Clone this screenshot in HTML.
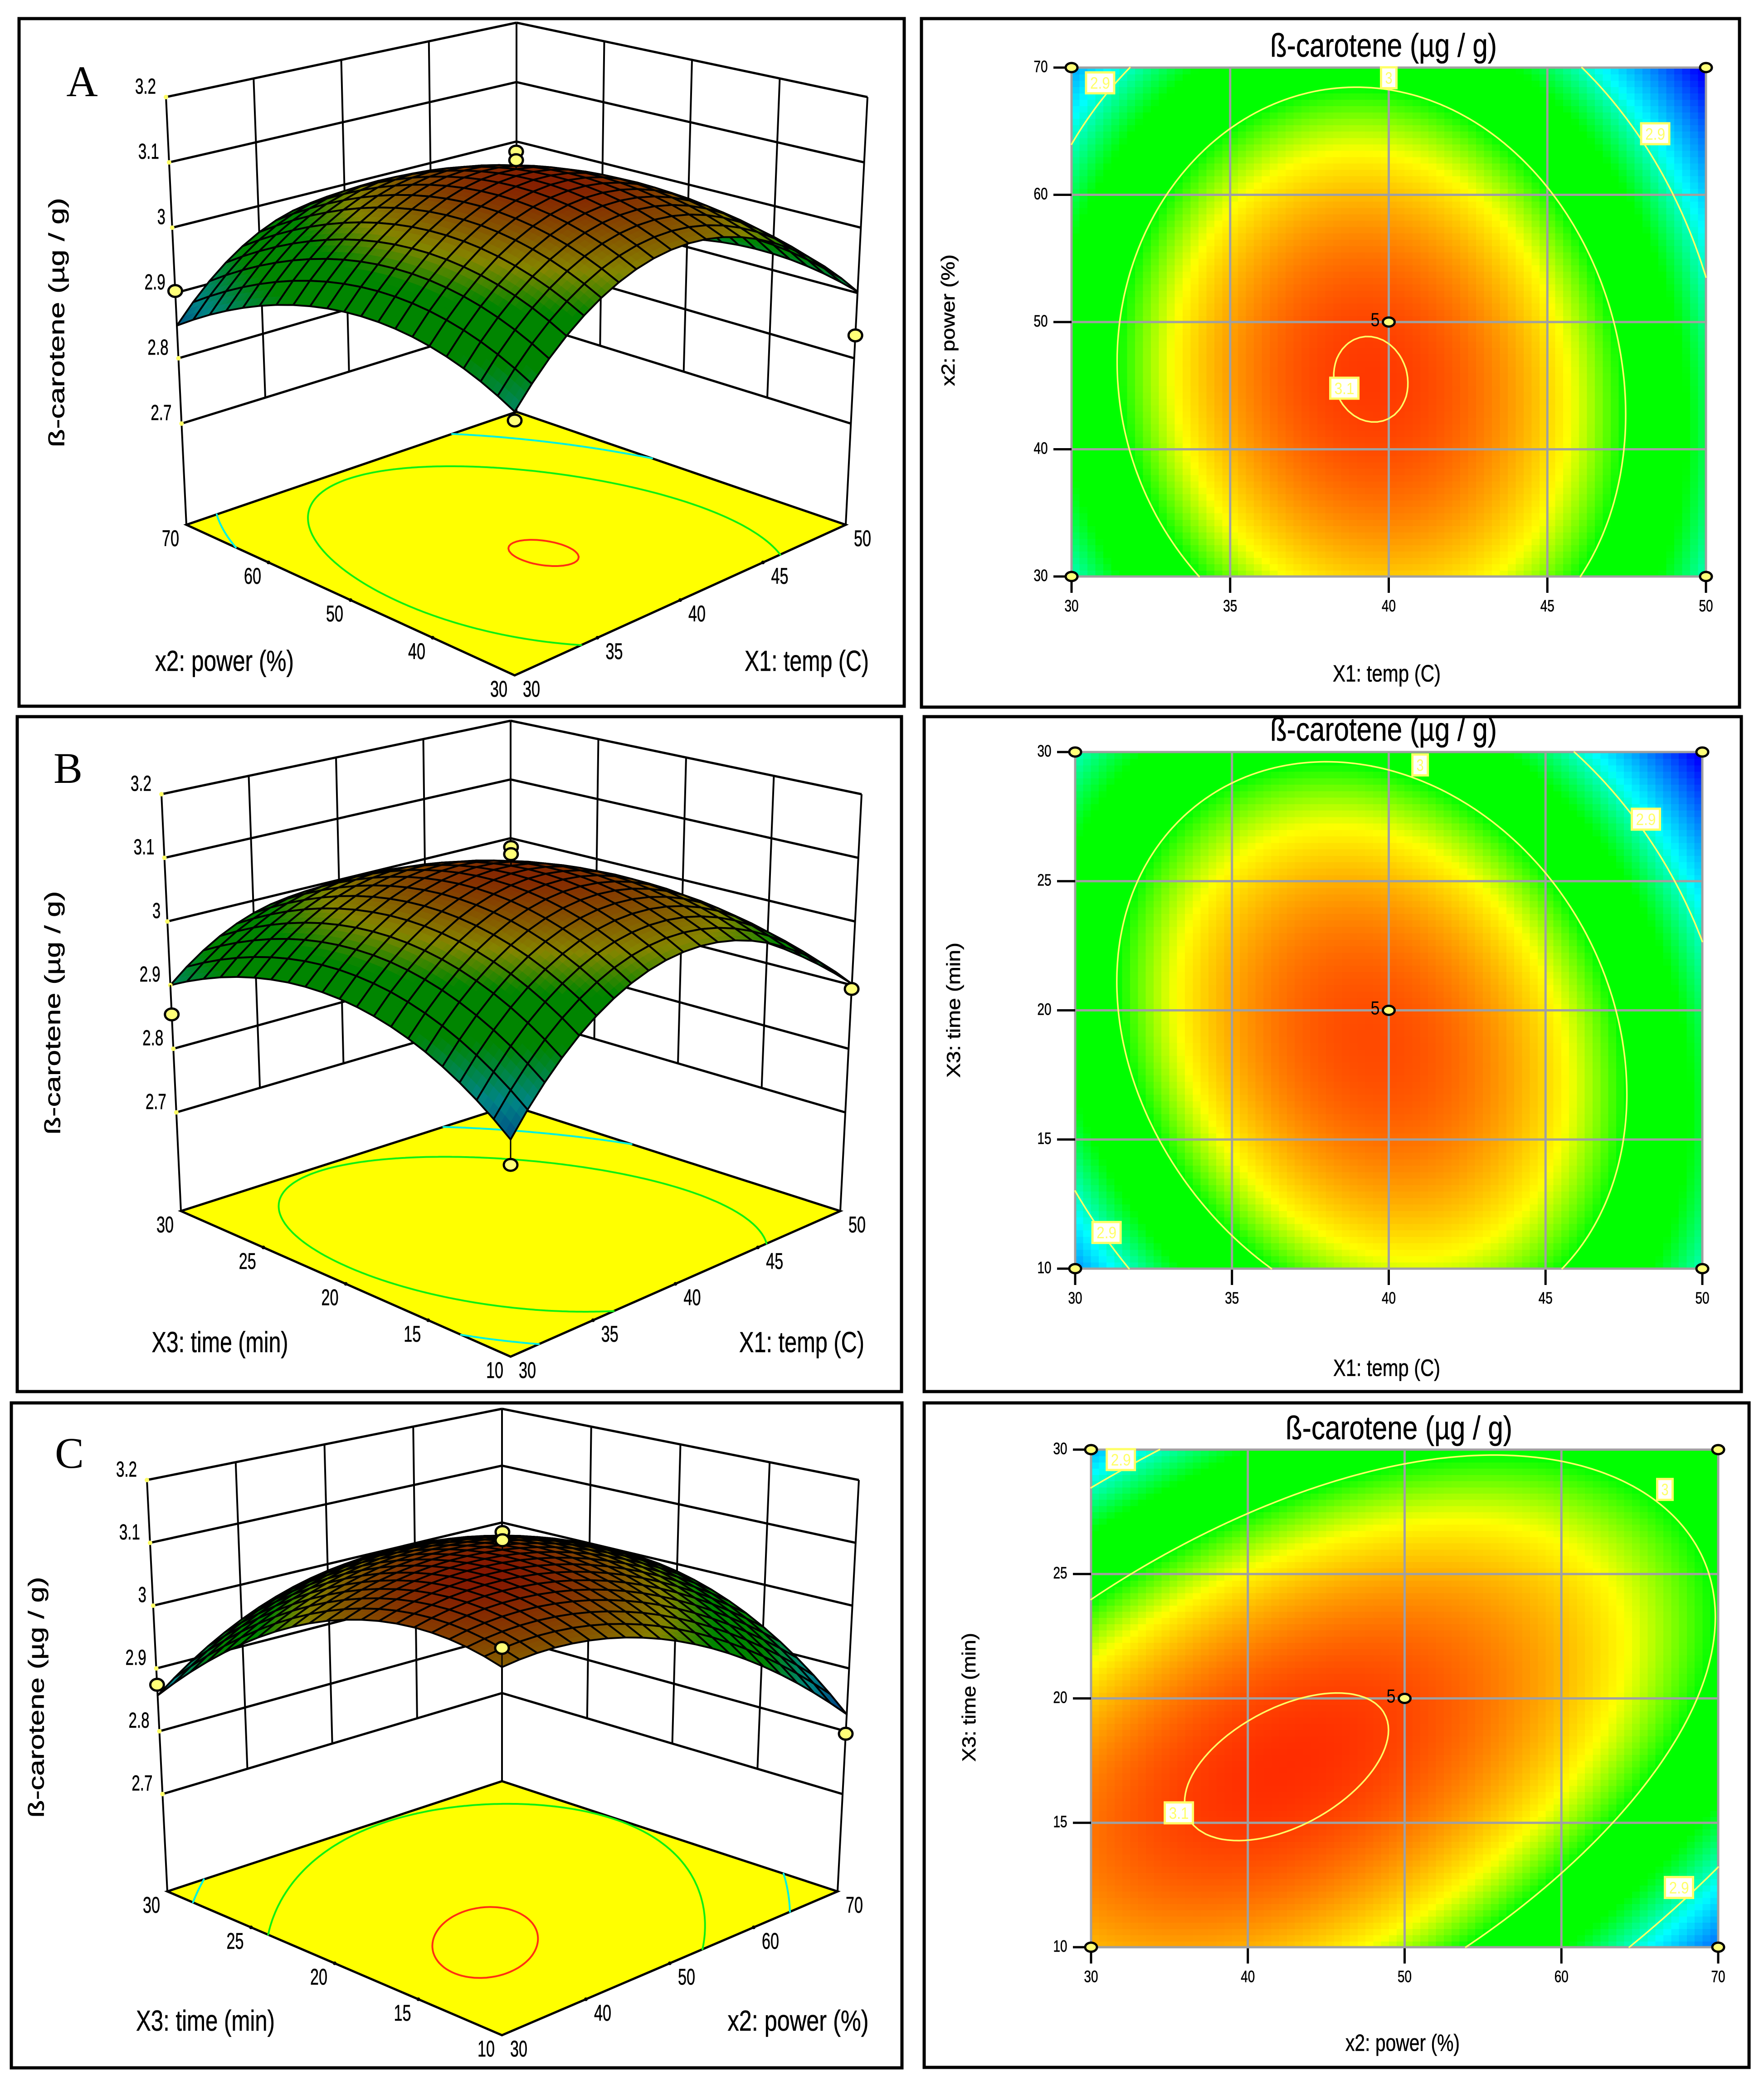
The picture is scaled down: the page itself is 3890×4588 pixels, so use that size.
<!DOCTYPE html>
<html lang="en">
<head>
<meta charset="utf-8">
<title>Response surface and contour plots of ß-carotene</title>
<style>
html,body{margin:0;padding:0;background:#fff;}
svg{display:block;font-family:"Liberation Sans",sans-serif;}
text{fill:#000;stroke:#000;stroke-width:.6px;}
</style>
</head>
<body>
<svg id="figure" xmlns="http://www.w3.org/2000/svg" width="3890" height="4588" viewBox="0 0 3890 4588">
  <rect width="3890" height="4588" fill="#fff"/>
  <rect x="42" y="41" width="1952" height="1516" fill="none" stroke="#000" stroke-width="7"/>
  <rect x="2032" y="41" width="1804" height="1518" fill="none" stroke="#000" stroke-width="7"/>
  <rect x="38" y="1580" width="1950" height="1488" fill="none" stroke="#000" stroke-width="7"/>
  <rect x="2038" y="1580" width="1802" height="1488" fill="none" stroke="#000" stroke-width="7"/>
  <rect x="25" y="3093" width="1964" height="1466" fill="none" stroke="#000" stroke-width="7"/>
  <rect x="2038" y="3093" width="1819" height="1465" fill="none" stroke="#000" stroke-width="7"/>
  <text x="181" y="212" font-family="Liberation Serif" font-size="96" text-anchor="middle" style="stroke:none">A</text>
  <text x="150" y="1726" font-family="Liberation Serif" font-size="96" text-anchor="middle" style="stroke:none">B</text>
  <text x="153" y="3236" font-family="Liberation Serif" font-size="96" text-anchor="middle" style="stroke:none">C</text>
</svg>
<script>
// ---- chart data ----
const zTicks = [2.7, 2.8, 2.9, 3, 3.1, 3.2];
const contourLevels = [2.9, 3, 3.1];

const tempTicks = [30, 35, 40, 45, 50];
const powerTicks = [30, 40, 50, 60, 70];
const timeTicks = [10, 15, 20, 25, 30];

// response at low / centre / high of the first factor (outer) and second factor (inner)
const responseA = [[2.900, 2.958, 2.850], [3.056, 3.0975, 2.984], [2.902, 2.913, 2.780]];
const responseB = [[2.845, 2.964, 2.900], [3.033, 3.095, 2.987], [2.902, 2.922, 2.780]];
const responseC = [[3.062, 3.056, 2.857], [3.026, 3.097, 2.989], [2.827, 2.988, 2.955]];

// design points: first-factor value, second-factor value, measured response
const designFirstA = [30, 50, 30, 40, 40];
const designSecondA = [70, 30, 30, 50, 50];
const designValueA = [2.903, 2.835, 2.888, 3.124, 3.111];
const designFirstB = [30, 50, 30, 40, 40];
const designSecondB = [30, 10, 10, 20, 20];
const designValueB = [2.854, 2.894, 2.810, 3.124, 3.113];
const designFirstC = [30, 70, 30, 50, 50];
const designSecondC = [30, 10, 10, 20, 20];
const designValueC = [2.874, 2.796, 3.089, 3.125, 3.112];

// contour annotation labels, in axis units
const labelTextA = ["2.9", "3", "2.9", "3.1"];
const labelFirstA = [30.9, 40, 48.4, 38.6];
const labelSecondA = [68.8, 69.2, 64.8, 44.8];
const labelTextB = ["3", "2.9", "2.9"];
const labelFirstB = [41, 48.2, 31];
const labelSecondB = [29.5, 27.4, 11.4];
const labelTextC = ["2.9", "3", "3.1", "2.9"];
const labelFirstC = [31.9, 66.6, 35.6, 67.5];
const labelSecondC = [29.6, 28.4, 15.4, 12.4];

// ---- helpers ----
const NS = "http://www.w3.org/2000/svg";
const root = document.getElementById("figure");
const TITLE = "\u00DF-carotene (\u00B5g / g)";
const FLOOR_Z = 2.545, TOP_Z = 3.2;

function el(parent, tag, attrs) {
  const e = document.createElementNS(NS, tag);
  for (const k in attrs) e.setAttribute(k, attrs[k]);
  parent.appendChild(e);
  return e;
}
function label(parent, str, x, y, size, len, rot) {
  const e = el(parent, "text", {
    x: x, y: y + size * 0.36, "font-size": size, "text-anchor": "middle",
    textLength: len, lengthAdjust: "spacingAndGlyphs"
  });
  if (rot) e.setAttribute("transform", "rotate(-90 " + x + " " + y + ")");
  e.textContent = str;
  return e;
}
function basis(u) { return [u * (u - 1) / 2, 1 - u * u, u * (u + 1) / 2]; }
function response(grid, a, b) { // a,b in 0..1
  const wa = basis(2 * a - 1), wb = basis(2 * b - 1);
  let s = 0;
  for (let i = 0; i < 3; i++) for (let j = 0; j < 3; j++) s += wa[i] * wb[j] * grid[i][j];
  return s;
}
const stopZ = [2.79, 2.885, 2.945, 3.0, 3.04, 3.12];
const stopRGB = [[0, 0, 255], [0, 255, 255], [0, 255, 0], [0, 255, 0], [255, 255, 0], [255, 0, 0]];
function colour(z, k) {
  let rgb = stopRGB[stopRGB.length - 1];
  if (z <= stopZ[0]) rgb = stopRGB[0];
  else for (let i = 1; i < stopZ.length; i++) {
    if (z <= stopZ[i]) {
      const f = (z - stopZ[i - 1]) / (stopZ[i] - stopZ[i - 1]);
      rgb = stopRGB[i - 1].map((c, n) => c + (stopRGB[i][n] - c) * f);
      break;
    }
  }
  return "rgb(" + rgb.map(c => Math.round(c * k)).join(",") + ")";
}
function contourSegments(grid, level, emit) {
  const N = 110;
  const val = (i, j) => response(grid, i / N, j / N);
  for (let i = 0; i < N; i++) for (let j = 0; j < N; j++) {
    const c = [[i, j], [i + 1, j], [i + 1, j + 1], [i, j + 1]];
    const v = c.map(p => val(p[0], p[1]));
    const pts = [];
    for (let k = 0; k < 4; k++) {
      const m = (k + 1) % 4;
      if ((v[k] < level) !== (v[m] < level)) {
        const f = (level - v[k]) / (v[m] - v[k]);
        pts.push([(c[k][0] + (c[m][0] - c[k][0]) * f) / N, (c[k][1] + (c[m][1] - c[k][1]) * f) / N]);
      }
    }
    if (pts.length >= 2) emit(pts[0], pts[1]);
    if (pts.length === 4) emit(pts[2], pts[3]);
  }
}

// ---- 3D response surface ----
function drawSurface(cfg) {
  const g = el(root, "g", {});
  
  
  const lerp2 = (q, a, b) => [
    (1 - a) * (1 - b) * q.F[0] + a * (1 - b) * q.R[0] + (1 - a) * b * q.L[0] + a * b * q.B[0],
    (1 - a) * (1 - b) * q.F[1] + a * (1 - b) * q.R[1] + (1 - a) * b * q.L[1] + a * b * q.B[1]
  ];
  const project = (a, b, z) => {
    const t = (z - FLOOR_Z) / (TOP_Z - FLOOR_Z);
    const p = lerp2(cfg.floor, a, b), q = lerp2(cfg.top, a, b);
    return [p[0] + (q[0] - p[0]) * t, p[1] + (q[1] - p[1]) * t];
  };
  const ptStr = p => p[0].toFixed(1) + "," + p[1].toFixed(1);
  const line = (p, q, w, name) => {
    const l = el(g, "line", { x1: p[0], y1: p[1], x2: q[0], y2: q[1], stroke: "#000", "stroke-width": w });
    
    
    return l;
  };
  const aMin = cfg.aTicks[0], aMax = cfg.aTicks[cfg.aTicks.length - 1];
  const bMin = cfg.bTicks[0], bMax = cfg.bTicks[cfg.bTicks.length - 1];
  const na = v => (v - aMin) / (aMax - aMin), nb = v => (v - bMin) / (bMax - bMin);

  // floor
  const f = cfg.floor;
  const floorPoly = el(g, "polygon", {
    points: [f.F, f.R, f.B, f.L].map(ptStr).join(" "), fill: "#ffff00", stroke: "#000", "stroke-width": 5
  });
  
  
  const floorColours = ["#00f0e0", "#10f010", "#ff3010"];
  contourLevels.forEach((lev, idx) => {
    let d = "";
    contourSegments(cfg.grid, lev, (p, q) => {
      const P = lerp2(f, p[0], p[1]), Q = lerp2(f, q[0], q[1]);
      d += "M" + ptStr(P) + "L" + ptStr(Q);
    });
    const path = el(g, "path", { d: d, fill: "none", stroke: floorColours[idx], "stroke-width": 4, "stroke-linecap": "round" });
    
    
  });

  // walls
  zTicks.forEach(z => {
    line(project(0, 1, z), project(1, 1, z), 5, "wall-gridline");
    line(project(1, 1, z), project(1, 0, z), 5, "wall-gridline");
  });
  cfg.aTicks.slice(1, -1).forEach(v => {
    line(project(na(v), 1, zTicks[0]), project(na(v), 1, TOP_Z), 4, "wall-gridline");
  });
  cfg.bTicks.slice(1, -1).forEach(v => {
    line(project(1, nb(v), zTicks[0]), project(1, nb(v), TOP_Z), 4, "wall-gridline");
  });
  line(project(0, 1, FLOOR_Z), project(0, 1, TOP_Z), 4, "corner-edge");
  line(project(1, 1, FLOOR_Z), project(1, 1, TOP_Z), 4, "corner-edge");
  line(project(1, 0, FLOOR_Z), project(1, 0, TOP_Z), 4, "corner-edge");

  // floor ticks
  cfg.aTicks.slice(1, -1).forEach(v => {
    const p = project(na(v), 0, FLOOR_Z);
    const c = el(g, "circle", { cx: p[0], cy: p[1], r: 4, fill: "#000" });
    
    
  });
  cfg.bTicks.slice(1, -1).forEach(v => {
    const p = project(0, nb(v), FLOOR_Z);
    const c = el(g, "circle", { cx: p[0], cy: p[1], r: 4, fill: "#000" });
    
    
  });

  // mesh, painted back to front
  const n = 20, sub = 3;
  const mesh = el(g, "g", {});
  
  
  const surf = (a, b) => project(a, b, response(cfg.grid, a, b));
  for (let i = n - 1; i >= 0; i--) for (let j = n - 1; j >= 0; j--) {
    for (let si = sub - 1; si >= 0; si--) for (let sj = sub - 1; sj >= 0; sj--) {
      const a0 = (i + si / sub) / n, a1 = (i + (si + 1) / sub) / n;
      const b0 = (j + sj / sub) / n, b1 = (j + (sj + 1) / sub) / n;
      const fillCol = colour(response(cfg.grid, (a0 + a1) / 2, (b0 + b1) / 2), 0.52);
      const patch = el(mesh, "polygon", {
        points: [surf(a0, b0), surf(a1, b0), surf(a1, b1), surf(a0, b1)].map(ptStr).join(" "),
        fill: fillCol, stroke: fillCol, "stroke-width": 1
      });
      
      
    }
    const a0 = i / n, a1 = (i + 1) / n, b0 = j / n, b1 = (j + 1) / n;
    const outline = el(mesh, "polygon", {
      points: [surf(a0, b0), surf(a1, b0), surf(a1, b1), surf(a0, b1)].map(ptStr).join(" "),
      fill: "none", stroke: "#000", "stroke-width": 4, "stroke-linejoin": "round"
    });
    
    
  }

  // z ticks
  zTicks.forEach(z => {
    const p = project(0, 1, z);
    const d = el(g, "circle", { cx: p[0], cy: p[1], r: 5, fill: "#ffff66" });
    
    
    const s = String(z);
    const t = label(g, s, p[0] - (s.length > 1 ? 45 : 24), p[1] - 25, 48, s.length > 1 ? 46 : 18);
    
    
  });
  cfg.aTicks.forEach(v => {
    const p = project(na(v), 0, FLOOR_Z);
    const t = label(g, String(v), p[0] + 37, p[1] + 29, 50, 38);
    
    
  });
  cfg.bTicks.forEach(v => {
    const p = project(0, nb(v), FLOOR_Z);
    const t = label(g, String(v), p[0] - 35, p[1] + 29, 50, 38);
    
    
  });

  // design points
  cfg.designFirst.forEach((v, i) => {
    const a = na(v), b = nb(cfg.designSecond[i]);
    const p = project(a, b, cfg.designValue[i]);
    const s = surf(a, b);
    line(p, s, 3, "design-point-stem");
    const m = el(g, "ellipse", { cx: p[0], cy: p[1], rx: 15, ry: 13, fill: "#ffff78", stroke: "#000", "stroke-width": 5 });
    
    
  });

  const zt = label(g, TITLE, cfg.zTitle[0], cfg.zTitle[1], 48, cfg.zTitle[2], true);
  
  
  const bt = label(g, cfg.bName, cfg.bTitle[0], cfg.bTitle[1], 64, cfg.bTitle[2]);
  
  
  const at = label(g, cfg.aName, cfg.aTitle[0], cfg.aTitle[1], 64, cfg.aTitle[2]);
  
  
}

// ---- 2D contour map ----
function drawContour(cfg) {
  const g = el(root, "g", {});
  
  
  const P = cfg.plot, W = P.x1 - P.x0, H = P.y1 - P.y0;
  const aMin = cfg.aTicks[0], aMax = cfg.aTicks[cfg.aTicks.length - 1];
  const bMin = cfg.bTicks[0], bMax = cfg.bTicks[cfg.bTicks.length - 1];
  const sx = v => P.x0 + (v - aMin) / (aMax - aMin) * W;
  const sy = v => P.y1 - (v - bMin) / (bMax - bMin) * H;

  const N = 80;
  const cells = el(g, "g", { "shape-rendering": "crispEdges" });
  
  
  for (let i = 0; i < N; i++) for (let j = 0; j < N; j++) {
    const z = response(cfg.grid, (i + .5) / N, (j + .5) / N);
    const cell = el(cells, "rect", {
      x: (P.x0 + i / N * W).toFixed(1), y: (P.y1 - (j + 1) / N * H).toFixed(1),
      width: (W / N + 1).toFixed(1), height: (H / N + 1).toFixed(1), fill: colour(z, 1)
    });
    
    
  }

  // gridlines and ticks
  cfg.aTicks.forEach(v => {
    const x = sx(v);
    const gl = el(g, "line", { x1: x, y1: P.y0, x2: x, y2: P.y1, stroke: "#a0a0a0", "stroke-width": 5 });
    
    
    const tk = el(g, "line", { x1: x, y1: P.y1, x2: x, y2: P.y1 + 36, stroke: "#000", "stroke-width": 5 });
    
    
    const t = label(g, String(v), x, P.y1 + 64, 36, 31);
    
    
  });
  cfg.bTicks.forEach(v => {
    const y = sy(v);
    const gl = el(g, "line", { x1: P.x0, y1: y, x2: P.x1, y2: y, stroke: "#a0a0a0", "stroke-width": 5 });
    
    
    const tk = el(g, "line", { x1: P.x0 - 40, y1: y, x2: P.x0, y2: y, stroke: "#000", "stroke-width": 5 });
    
    
    const t = label(g, String(v), P.x0 - 68, y - 3, 36, 31);
    
    
  });

  // contours
  contourLevels.forEach(lev => {
    let d = "";
    contourSegments(cfg.grid, lev, (p, q) => {
      d += "M" + (P.x0 + p[0] * W).toFixed(1) + "," + (P.y1 - p[1] * H).toFixed(1) +
           "L" + (P.x0 + q[0] * W).toFixed(1) + "," + (P.y1 - q[1] * H).toFixed(1);
    });
    const path = el(g, "path", { d: d, fill: "none", stroke: "#ffff66", "stroke-width": 3.5, "stroke-linecap": "round" });
    
    
  });

  // contour labels
  cfg.labelText.forEach((s, i) => {
    const x = sx(cfg.labelFirst[i]), y = sy(cfg.labelSecond[i]);
    const w = s.length > 1 ? 62 : 34;
    const box = el(g, "rect", { x: x - w / 2, y: y - 23, width: w, height: 46, fill: "#fff", stroke: "#ffff66", "stroke-width": 5 });
    
    
    const t = label(g, s, x, y, 36, s.length > 1 ? 44 : 16);
    t.style.fill = "#ffff66";
    t.style.stroke = "none";
    
    
  });

  // design point markers
  const corner = [[aMin, bMin], [aMin, bMax], [aMax, bMin], [aMax, bMax], [(aMin + aMax) / 2, (bMin + bMax) / 2]];
  corner.forEach(c => {
    const m = el(g, "ellipse", { cx: sx(c[0]), cy: sy(c[1]), rx: 13, ry: 10, fill: "#ffff78", stroke: "#000", "stroke-width": 5 });
    
    
  });
  const rep = label(g, "5", sx((aMin + aMax) / 2) - 30, sy((bMin + bMax) / 2) - 6, 42, 20);
  rep.style.stroke = "none";
  
  

  const tt = label(g, TITLE, cfg.title[0], cfg.title[1], 72, 500);
  
  
  const xt = label(g, cfg.aName, cfg.xTitle[0], cfg.xTitle[1], 52, cfg.xTitle[2]);
  
  
  const yt = label(g, cfg.bName, cfg.yTitle[0], cfg.yTitle[1], 42, cfg.yTitle[2], true);
  
  
}

// ---- panels ----
drawSurface({
  name: "panel-a-surface-plot", grid: responseA, aTicks: tempTicks, bTicks: powerTicks,
  aName: "X1: temp (C)", bName: "x2: power (%)",
  floor: { F: [1135, 1489], R: [1865, 1157], L: [411, 1157], B: [1139, 908] },
  top: { F: [1135, 416], R: [1913, 214], L: [366, 214], B: [1139, 50] },
  designFirst: designFirstA, designSecond: designSecondA, designValue: designValueA,
  zTitle: [124, 711, 550], bTitle: [495, 1456, 306], aTitle: [1779, 1456, 274]
});
drawSurface({
  name: "panel-b-surface-plot", grid: responseB, aTicks: tempTicks, bTicks: timeTicks,
  aName: "X1: temp (C)", bName: "X3: time (min)",
  floor: { F: [1126, 2991], R: [1853, 2670], L: [399, 2670], B: [1126, 2437] },
  top: { F: [1126, 1946], R: [1900, 1751], L: [356, 1751], B: [1126, 1589] },
  designFirst: designFirstB, designSecond: designSecondB, designValue: designValueB,
  zTitle: [115, 2233, 537], bTitle: [485, 2958, 301], aTitle: [1768, 2958, 276]
});
drawSurface({
  name: "panel-c-surface-plot", grid: responseC, aTicks: powerTicks, bTicks: timeTicks,
  aName: "x2: power (%)", bName: "X3: time (min)",
  floor: { F: [1107, 4487], R: [1847, 4170], L: [369, 4170], B: [1107, 3927] },
  top: { F: [1107, 3459], R: [1894, 3263], L: [324, 3263], B: [1107, 3106] },
  designFirst: designFirstC, designSecond: designSecondC, designValue: designValueC,
  zTitle: [79, 3742, 531], bTitle: [453, 4454, 306], aTitle: [1760, 4454, 311]
});
drawContour({
  name: "panel-a-contour-plot", grid: responseA, aTicks: tempTicks, bTicks: powerTicks,
  aName: "X1: temp (C)", bName: "x2: power (%)",
  plot: { x0: 2363, x1: 3762, y0: 149, y1: 1271 },
  labelText: labelTextA, labelFirst: labelFirstA, labelSecond: labelSecondA,
  title: [3051, 99], xTitle: [3058, 1484, 238], yTitle: [2090, 706, 290]
});
drawContour({
  name: "panel-b-contour-plot", grid: responseB, aTicks: tempTicks, bTicks: timeTicks,
  aName: "X1: temp (C)", bName: "X3: time (min)",
  plot: { x0: 2371, x1: 3754, y0: 1658, y1: 2797 },
  labelText: labelTextB, labelFirst: labelFirstB, labelSecond: labelSecondB,
  title: [3051, 1607], xTitle: [3058, 3015, 236], yTitle: [2102, 2227, 298]
});
drawContour({
  name: "panel-c-contour-plot", grid: responseC, aTicks: powerTicks, bTicks: timeTicks,
  aName: "x2: power (%)", bName: "X3: time (min)",
  plot: { x0: 2406, x1: 3789, y0: 3196, y1: 4293 },
  labelText: labelTextC, labelFirst: labelFirstC, labelSecond: labelSecondC,
  title: [3085, 3147], xTitle: [3093, 4503, 252], yTitle: [2136, 3742, 284]
});
</script>
</body>
</html>
